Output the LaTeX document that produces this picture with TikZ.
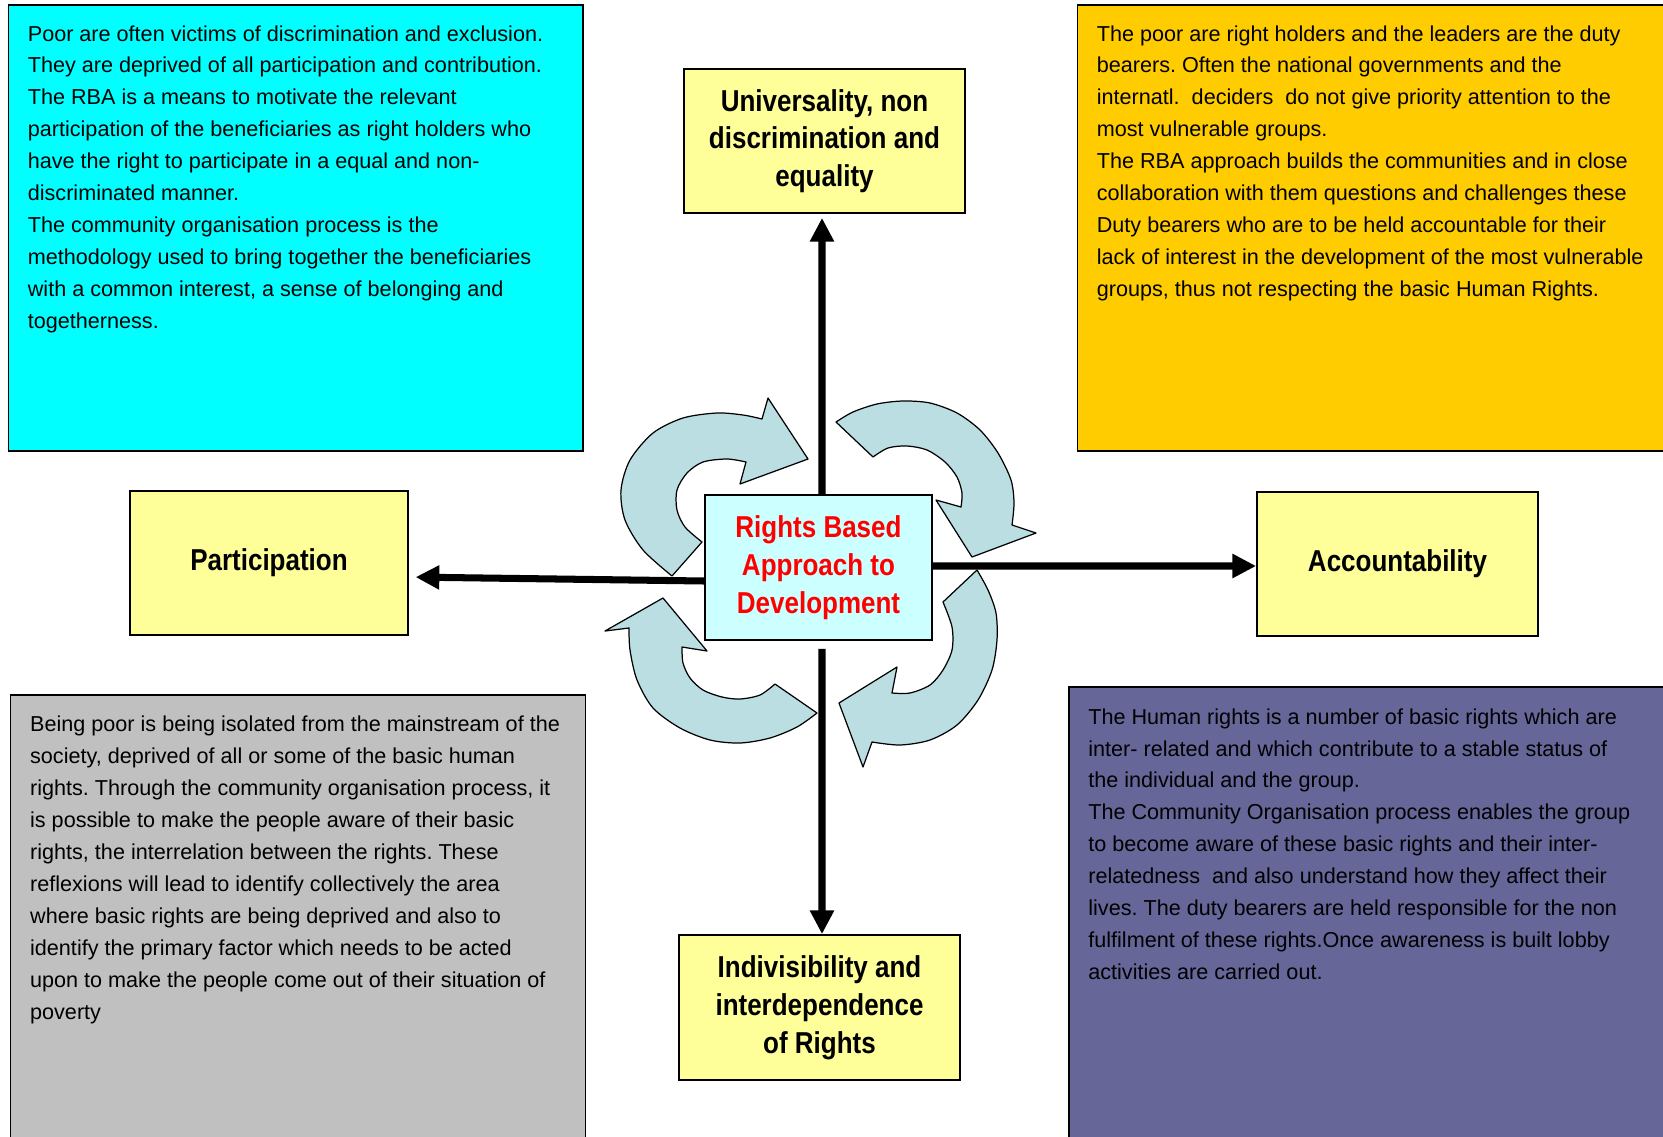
\documentclass[tikz,border=0pt]{standalone}
\usepackage{fontspec}
\setmainfont{Liberation Sans}
\newfontfamily\titlefont{Liberation Sans}[FakeStretch=0.86]
\usetikzlibrary{arrows.meta}

\definecolor{panelcyan}{RGB}{0,255,255}
\definecolor{panelgold}{RGB}{255,204,0}
\definecolor{panelgray}{RGB}{192,192,192}
\definecolor{panelpurple}{RGB}{102,102,153}
\definecolor{topicyellow}{RGB}{255,255,153}
\definecolor{rbacyan}{RGB}{204,255,255}
\definecolor{cycleblue}{RGB}{186,222,226}

\tikzset{
	panel/.style={draw=black, line width=1pt},
	paneltext/.style={anchor=north west, inner sep=0pt, align=left, font=\fontsize{12.3}{18.2}\selectfont},
	topic/.style={draw=black, line width=1pt, fill=topicyellow, minimum width=5.62cm, minimum height=2.88cm, align=center, font=\titlefont\bfseries\fontsize{17.2}{21.5}\selectfont},
	cyclearrow/.style={draw=black, line width=0.7pt, fill=cycleblue, line join=round},
	link/.style={line width=4pt, -{Triangle[length=13.5pt,width=13pt]}}
}

\begin{document}
\frenchspacing
\begin{tikzpicture}[x=0.02cm, y=-0.02cm]
					\useasboundingbox (0,0) rectangle (1663,1136);

					\draw[panel, fill=panelcyan] (8.5,5.3) rectangle (583,451);
					\draw[panel, fill=panelgold] (1077.6,5.3) rectangle (1700,451);
					\draw[panel, fill=panelgray] (10.6,695) rectangle (585.5,1180);
					\draw[panel, fill=panelpurple] (1069,687) rectangle (1700,1180);

					\node[paneltext] (cyantext) at (27.5,25) {Poor are often victims of discrimination and exclusion.\\They are deprived of all participation and contribution.\\The RBA is a means to motivate the relevant\\participation of the beneficiaries as right holders who\\have the right to participate in a equal and non-\\discriminated manner.\\The community organisation process is the\\methodology used to bring together the beneficiaries\\with a common interest, a sense of belonging and\\togetherness.};
					\node[paneltext] (goldtext) at (1096.5,25) {The poor are right holders and the leaders are the duty\\bearers. Often the national governments and the\\internatl.\ \ deciders\ \ do not give priority attention to the\\most vulnerable groups.\\The RBA approach builds the communities and in close\\collaboration with them questions and challenges these\\Duty bearers who are to be held accountable for their\\lack of interest in the development of the most vulnerable\\groups, thus not respecting the basic Human Rights.};
					\node[paneltext] (graytext) at (29.8,715.5) {Being poor is being isolated from the mainstream of the\\society, deprived of all or some of the basic human\\rights. Through the community organisation process, it\\is possible to make the people aware of their basic\\rights, the interrelation between the rights. These\\reflexions will lead to identify collectively the area\\where basic rights are being deprived and also to\\identify the primary factor which needs to be acted\\upon to make the people come out of their situation of\\poverty};
					\node[paneltext] (purpletext) at (1088,708) {The Human rights is a number of basic rights which are\\inter- related and which contribute to a stable status of\\the individual and the group.\\The Community Organisation process enables the group\\to become aware of these basic rights and their inter-\\relatedness\ \ and also understand how they affect their\\lives. The duty bearers are held responsible for the non\\fulfilment of these rights.Once awareness is built lobby\\activities are carried out.};

					\node[topic] (univ) at (824.5,141) {Universality, non\\discrimination and\\equality};
					\node[topic, minimum width=5.55cm] (part) at (269,563) {Participation};
					\node[topic] (acc) at (1397.5,564) {Accountability};
					\node[topic, minimum height=2.9cm] (ind) at (819.5,1007.5) {Indivisibility and\\interdependence\\of Rights};

					\draw[cyclearrow] plot[smooth] coordinates {(672,576) (643,550) (625,520) (621,490) (630,460) (653,433) (683,418) (717,413) (743,415) (762,419)}
						-- (768,398) -- (808,459) -- (740,484) -- (746,462)
						-- plot[smooth] coordinates {(746,462) (727,459) (703,462) (687,473) (677,490) (677,510) (685,527) (702,542)} -- cycle;
					\draw[cyclearrow] plot[smooth] coordinates {(836,422) (853,412) (877,404) (903,401) (930,403) (957,413) (980,430) (998,453) (1011,480) (1014,503) (1012,525)}
						-- (1036,533) -- (972,557) -- (936,500) -- (961,507)
						-- plot[smooth] coordinates {(961,507) (962,493) (957,477) (945,462) (927,450) (907,446) (888,448) (873,457)} -- cycle;
					\draw[cyclearrow] plot[smooth] coordinates {(977,570) (988,590) (996,613) (997,640) (992,670) (978,700) (957,725) (930,740) (900,745) (872,742)}
						-- (863,767) -- (839,703) -- (897,667) -- (892,693)
						-- plot[smooth] coordinates {(892,693) (910,693) (930,685) (943,670) (952,650) (952,627) (943,602)} -- cycle;
					\draw[cyclearrow] plot[smooth] coordinates {(817,713) (797,727) (770,738) (740,743) (710,740) (680,728) (653,708) (637,680) (630,650) (629,628)}
						-- (605,631) -- (663,598) -- (707,651) -- (682,647)
						-- plot[smooth] coordinates {(682,647) (683,663) (690,678) (703,690) (722,697) (740,699) (760,695) (775,684)} -- cycle;

					\node[topic, fill=rbacyan, text=red, minimum width=4.54cm, minimum height=2.9cm] (rba) at (818.5,567.5) {Rights Based\\Approach to\\Development};

					\draw[link, shorten >=0.08cm] ([xshift=0.07cm]rba.north) -- ([xshift=-0.05cm]univ.south);
					\draw[link, shorten >=0.14cm] ([yshift=-0.27cm]rba.west) -- ([yshift=-0.28cm]part.east);
					\draw[link] ([yshift=0.03cm]rba.east) -- ([yshift=-0.04cm]acc.west);
					\draw[link, shorten <=0.16cm] ([xshift=0.07cm]rba.south) -- ([xshift=0.05cm]ind.north);
\end{tikzpicture}
\end{document}
